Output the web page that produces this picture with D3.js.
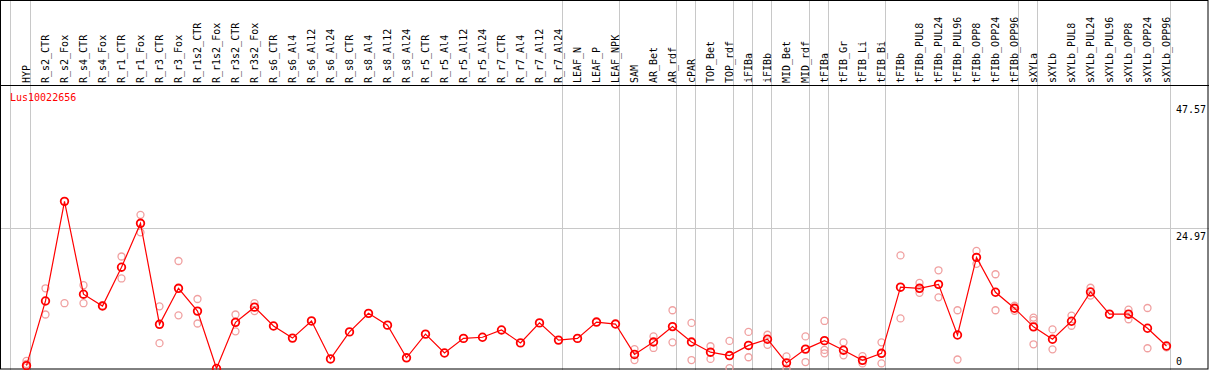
<!DOCTYPE html>
<html>
<head>
<meta charset="utf-8">
<script src="https://cdn.jsdelivr.net/npm/d3@7"></script>
<style>
  body { margin: 0; background: #fff; }
  svg { display: block; }
  text { font-family: "DejaVu Sans Mono", monospace; font-size: 10px; }
</style>
</head>
<body>
<svg id="chart" width="1209" height="370"></svg>
<script>
// sample columns
var categories = ["HYP", "R_s2_CTR", "R_s2_Fox", "R_s4_CTR", "R_s4_Fox", "R_r1_CTR", "R_r1_Fox",
    "R_r3_CTR", "R_r3_Fox", "R_r1s2_CTR", "R_r1s2_Fox", "R_r3s2_CTR", "R_r3s2_Fox",
    "R_s6_CTR", "R_s6_Al4", "R_s6_Al12", "R_s6_Al24", "R_s8_CTR", "R_s8_Al4", "R_s8_Al12", "R_s8_Al24",
    "R_r5_CTR", "R_r5_Al4", "R_r5_Al12", "R_r5_Al24", "R_r7_CTR", "R_r7_Al4", "R_r7_Al12", "R_r7_Al24",
    "LEAF_N", "LEAF_P", "LEAF_NPK", "SAM", "AR_Bet", "AR_rdf", "cPAR", "TOP_Bet", "TOP_rdf",
    "iFIBa", "iFIBb", "MID_Bet", "MID_rdf", "tFIBa", "tFIB_Gr", "tFIB_Li", "tFIB_Bi", "tFIBb",
    "tFIBb_PUL8", "tFIBb_PUL24", "tFIBb_PUL96", "tFIBb_OPP8", "tFIBb_OPP24", "tFIBb_OPP96",
    "sXYLa", "sXYLb", "sXYLb_PUL8", "sXYLb_PUL24", "sXYLb_PUL96", "sXYLb_OPP8", "sXYLb_OPP24", "sXYLb_OPP96"];

// mean expression per column
var means = [0.5, 12.0, 29.7, 13.2, 11.1, 18.0, 25.8, 7.85, 14.25, 10.2, 0, 8.2, 10.9,
    7.55, 5.4, 8.45, 1.7, 6.5, 9.8, 7.7, 1.9, 6.1, 2.75, 5.35, 5.55, 6.85, 4.55, 8.1, 5.05,
    5.35, 8.25, 7.9, 2.5, 4.7, 7.45, 4.7, 2.9, 2.3, 4.1, 5.2, 1.0, 3.45, 4.95, 3.25, 1.45, 2.7, 14.45,
    14.25, 14.95, 5.95, 19.75, 13.55, 10.7, 7.4, 5.2, 8.4, 13.6, 9.65, 9.65, 7.15, 4.0];

// replicate values per column (empty where none visible)
var replicates = [[1.35, 0.8], [14.25, 9.6], [11.6], [14.8, 11.6], [11.2], [19.9, 16.0], [27.3, 24.2],
    [11.05, 4.5], [19.1, 9.45], [12.35, 8.0], [], [9.6, 6.6], [11.6, 10.2],
    [], [], [], [], [], [], [], [], [], [], [], [], [], [], [], [],
    [], [], [], [3.45, 1.5], [5.7, 3.65], [10.35, 4.65], [8.1, 1.5], [3.95, 1.7], [4.9, 0.05],
    [6.5, 2.0], [6.0, 4.2], [2.15, 0], [5.7, 1.15], [8.45, 3.3, 2.7], [4.65, 2.35], [2.2, 0.9], [4.65, 0.9], [20.1, 8.9],
    [15.2, 13.45], [17.45, 12.65], [10.35, 1.6], [20.9, 18.6], [16.75, 10.35], [11.15, 10.25],
    [9.05, 8.6, 4.3], [6.95, 3.4], [9.4, 7.6], [14.35, 12.95], [], [10.45, 8.75], [10.75, 3.6], [3.75]];

// last column of each group (a grey separator follows it)
var groupEnds = ["HYP", "R_r7_Al24", "LEAF_NPK", "AR_rdf", "cPAR", "TOP_rdf", "iFIBa", "iFIBb",
    "MID_rdf", "tFIBa", "tFIB_Bi", "tFIBb_OPP96", "sXYLa", "sXYLb_OPP96"];

var gene = "Lus10022656";
var yTicks = [0, 24.97, 47.57];

var svg = d3.select("#chart"),
    width = +svg.attr("width"),
    height = +svg.attr("height");

var headerY = 85;

var x = d3.scalePoint()
    .domain(categories)
    .range([26.5, 1166.5]);

var y = d3.scaleLinear()
    .domain([0, 47.57])
    .range([368.5, 100.8]);

// grey separators
svg.selectAll(".sep")
    .data(groupEnds)
    .enter()
    .append("line")
    .attr("x1", function(d){ return Math.round(x(d) + 3.7) + 0.5 })
    .attr("x2", function(d){ return Math.round(x(d) + 3.7) + 0.5 })
    .attr("y1", 0)
    .attr("y2", height)
    .attr("stroke", "#c8c8c8")
    .attr("stroke-width", 1);

svg.append("line")
    .attr("x1", 10.5).attr("x2", 10.5)
    .attr("y1", 0).attr("y2", height)
    .attr("stroke", "#c8c8c8");

// horizontal gridline at middle tick
svg.append("line")
    .attr("x1", 0).attr("x2", width)
    .attr("y1", Math.round(y(yTicks[1])) + 0.5)
    .attr("y2", Math.round(y(yTicks[1])) + 0.5)
    .attr("stroke", "#c8c8c8");

// frame
svg.append("rect")
    .attr("x", 0.5).attr("y", 0.5)
    .attr("width", width - 1.5).attr("height", height - 1.5)
    .attr("fill", "none")
    .attr("stroke", "black");

svg.append("line")
    .attr("x1", 0).attr("x2", width)
    .attr("y1", headerY + 0.5).attr("y2", headerY + 0.5)
    .attr("stroke", "black");

// column labels
svg.selectAll(".lab")
    .data(categories)
    .enter()
    .append("text")
    .attr("transform", function(d){ return "translate(" + (x(d) + 3) + "," + (headerY - 2) + ") rotate(-90)" })
    .attr("fill", "black")
    .text(function(d){ return d });

// gene name
svg.append("text")
    .attr("x", 10)
    .attr("y", 101)
    .attr("fill", "red")
    .text(gene);

// y tick labels on the right
svg.selectAll(".ytick")
    .data(yTicks)
    .enter()
    .append("text")
    .attr("x", 1176)
    .attr("y", function(d){ return d === 0 ? 365 : y(d) + 12 })
    .attr("fill", "black")
    .text(function(d){ return d });

var plot = svg.append("g");

// replicate points
var reps = [];
replicates.forEach(function(r, i){
    r.forEach(function(v){ reps.push({cat: categories[i], v: v}) });
});

plot.selectAll(".rep")
    .data(reps)
    .enter()
    .append("circle")
    .attr("cx", function(d){ return x(d.cat) })
    .attr("cy", function(d){ return y(d.v) })
    .attr("r", 3.5)
    .attr("fill", "none")
    .attr("stroke", "#f0a0a0")
    .attr("stroke-width", 1.3);

// mean line
var line = d3.line()
    .x(function(d, i){ return x(categories[i]) })
    .y(function(d){ return y(d) });

plot.append("path")
    .datum(means)
    .attr("d", line)
    .attr("fill", "none")
    .attr("stroke", "red")
    .attr("stroke-width", 1.2);

plot.selectAll(".mean")
    .data(means)
    .enter()
    .append("circle")
    .attr("cx", function(d, i){ return x(categories[i]) })
    .attr("cy", function(d){ return y(d) })
    .attr("r", 3.8)
    .attr("fill", "none")
    .attr("stroke", "red")
    .attr("stroke-width", 1.8);
</script>
</body>
</html>
